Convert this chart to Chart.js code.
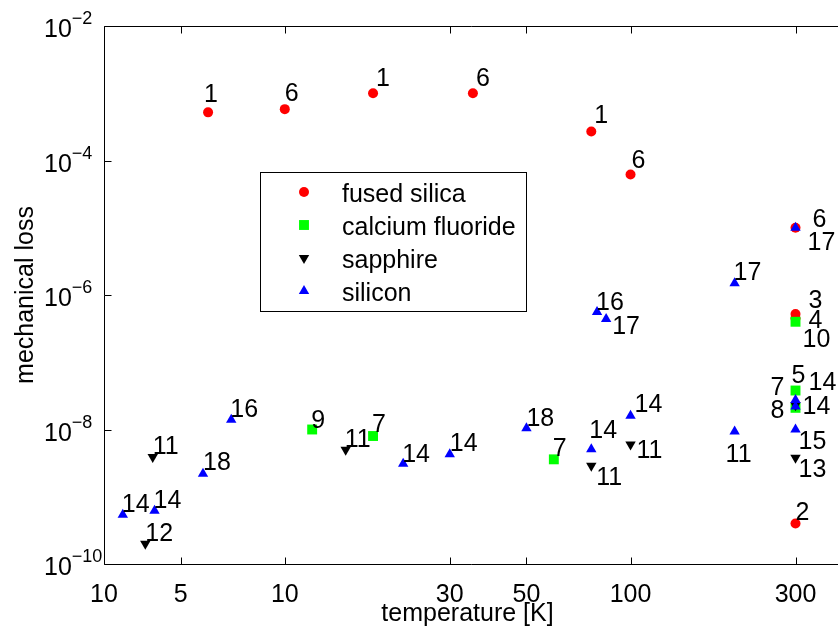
<!DOCTYPE html>
<html>
<head>
<meta charset="utf-8">
<script src="https://cdn.jsdelivr.net/npm/chart.js@4.4.0/dist/chart.umd.min.js"></script>
<style>
  html, body { margin: 0; padding: 0; background: #fff; overflow: hidden; }
  #wrap { width: 838px; height: 631px; }
</style>
</head>
<body>
<div id="wrap"><canvas id="chart" width="838" height="631"></canvas></div>
<script>
// axis ticks (the first tick sits at 3 K but is printed "10" in the original)
var xTickValues = [3, 5, 10, 30, 50, 100, 300];
var xTickLabels = ['10', '5', '10', '30', '50', '100', '300'];
var yTickValues = [1e-10, 1e-8, 1e-6, 1e-4, 1e-2];

var seriesNames = ['fused silica', 'calcium fluoride', 'sapphire', 'silicon'];

// fused silica
var fusedT    = [6, 10, 18, 35, 77, 100, 300, 300, 300, 300];
var fusedLoss = [5.2e-4, 5.8e-4, 1.0e-3, 1.0e-3, 2.7e-4, 6.2e-5, 1.0e-5, 5.2e-7, 4.5e-7, 4.0e-10];
var fusedRef  = ['1', '6', '1', '6', '1', '6', '6', '3', '4', '2'];

// calcium fluoride
var cafT    = [12, 18, 60, 300, 300, 300];
var cafLoss = [1.0e-8, 8.0e-9, 3.6e-9, 3.8e-8, 2.1e-8, 4.0e-7];
var cafRef  = ['9', '7', '7', '5', '7', '10'];

// sapphire
var sapT    = [4.15, 3.95, 15, 77, 100, 300, 300];
var sapLoss = [3.9e-9, 2.0e-10, 5.0e-9, 2.9e-9, 6.0e-9, 2.3e-8, 3.8e-9];
var sapRef  = ['11', '12', '11', '11', '11', '8', '13'];

// silicon
var siT    = [3.4, 4.2, 5.8, 7, 22, 30, 50, 77, 100, 200, 200, 80, 85, 300, 300, 300, 300];
var siLoss = [5.4e-10, 6.2e-10, 2.2e-9, 1.4e-8, 3.1e-9, 4.3e-9, 1.04e-8, 5.1e-9, 1.6e-8, 9.3e-9,
              1.5e-6, 5.6e-7, 4.4e-7, 1.0e-5, 2.75e-8, 2.2e-8, 1.0e-8];
var siRef  = ['14', '14', '18', '16', '14', '14', '18', '14', '14', '11',
              '17', '16', '17', '17', '14', '14', '15'];

// where each reference number sits relative to its marker (pixels, text left / baseline)
var labelOffsets = [
  [[-4,-10],[0,-8],[3,-7],[3,-7],[3,-8],[1,-6],[17,-1],[13,-6],[13,10],[0,-4]],
  [[-1,-2],[-1,-4],[-1,-3],[-4,-8],[-25,-13],[7,25]],
  [[0,-3],[0,-3],[-1,-3],[5,19],[6,14],[-25,13],[3,19]],
  [[-1,-3],[-1,-3],[0,-4],[-1,-3],[-1,-2],[0,-3],[0,-2],[-2,-11],[4,-4],[-9,30],
   [-1,-3],[-1,-2],[6,15],[12,22],[13,-10],[7,8],[3,19]]
];

var FONT = '"Liberation Sans", Arial, Helvetica, sans-serif';
var FS = 25;
var refs = [fusedRef, cafRef, sapRef, siRef];

function pts(t, v) {
  var out = [];
  for (var i = 0; i < t.length; i++) out.push({x: t[i], y: v[i]});
  return out;
}

var styles = [
  {color: '#ff0000', pointStyle: 'circle', radius: 5, rotation: 0},
  {color: '#00ff00', pointStyle: 'rect', radius: 7, rotation: 0},
  {color: '#000000', pointStyle: 'triangle', radius: 6, rotation: 180},
  {color: '#0000ff', pointStyle: 'triangle', radius: 6, rotation: 0}
];

function marker(ctx, st, x, y) {
  var r = st.radius;
  ctx.fillStyle = st.color;
  ctx.beginPath();
  if (st.pointStyle == 'circle') {
    ctx.arc(x, y, r, 0, Math.PI * 2);
  } else if (st.pointStyle == 'rect') {
    var s = r * Math.SQRT1_2;
    ctx.rect(x - s, y - s, 2 * s, 2 * s);
  } else {
    var d = st.rotation == 180 ? -1 : 1;
    ctx.moveTo(x, y - d * r);
    ctx.lineTo(x + r * 0.866, y + d * r / 2);
    ctx.lineTo(x - r * 0.866, y + d * r / 2);
    ctx.closePath();
  }
  ctx.fill();
}

var matlabLook = {
  id: 'matlabLook',
  beforeDatasetsDraw: function (chart) {
    var ctx = chart.ctx, a = chart.chartArea;
    var xs = chart.scales.x, ys = chart.scales.y;
    var L = Math.round(a.left) + 0.5, T = Math.round(a.top) + 0.5, B = Math.round(a.bottom) + 0.5;
    ctx.save();
    ctx.strokeStyle = '#000';
    ctx.lineWidth = 1;
    // the right side of the box is cut off by the picture edge
    ctx.beginPath();
    ctx.moveTo(chart.width, T); ctx.lineTo(L, T); ctx.lineTo(L, B); ctx.lineTo(chart.width, B);
    xTickValues.forEach(function (v) {
      var px = Math.round(xs.getPixelForValue(v)) + 0.5;
      ctx.moveTo(px, B); ctx.lineTo(px, B - 7);
      ctx.moveTo(px, T); ctx.lineTo(px, T + 7);
    });
    yTickValues.forEach(function (v) {
      var py = Math.round(ys.getPixelForValue(v)) + 0.5;
      ctx.moveTo(L, py); ctx.lineTo(L + 7, py);
    });
    ctx.stroke();

    // y tick labels as 10 with a raised exponent
    ctx.fillStyle = '#000';
    ctx.textAlign = 'left';
    ctx.textBaseline = 'alphabetic';
    yTickValues.forEach(function (v) {
      var py = ys.getPixelForValue(v);
      var e = Math.round(Math.log10(v));
      ctx.font = FS + 'px ' + FONT;
      ctx.fillText('10', 44, py + 11);
      var w = ctx.measureText('10').width;
      ctx.font = '18px ' + FONT;
      ctx.fillText((e < 0 ? '\u2212' : '') + Math.abs(e), 44 + w, py - 2);
    });
    ctx.restore();
  },
  afterDatasetsDraw: function (chart) {
    var ctx = chart.ctx;
    ctx.save();
    ctx.font = FS + 'px ' + FONT;
    ctx.fillStyle = '#000';
    ctx.textAlign = 'left';
    ctx.textBaseline = 'alphabetic';
    for (var i = 0; i < refs.length; i++) {
      var meta = chart.getDatasetMeta(i);
      for (var j = 0; j < meta.data.length; j++) {
        var p = meta.data[j];
        var off = labelOffsets[i][j];
        ctx.fillText(refs[i][j], p.x + off[0], p.y + off[1]);
      }
    }
    ctx.restore();
  },
  afterDraw: function (chart) {
    var ctx = chart.ctx;
    ctx.save();
    ctx.fillStyle = '#fff';
    ctx.fillRect(260, 172, 266, 139);
    ctx.strokeStyle = '#000';
    ctx.lineWidth = 1;
    ctx.strokeRect(260.5, 172.5, 266, 139);
    ctx.font = FS + 'px ' + FONT;
    ctx.textAlign = 'left';
    ctx.textBaseline = 'alphabetic';
    for (var i = 0; i < seriesNames.length; i++) {
      var cy = 192 + i * 33;
      marker(ctx, styles[i], 304, cy);
      ctx.fillStyle = '#000';
      ctx.fillText(seriesNames[i], 342, cy + 10);
    }
    ctx.restore();
  }
};

var datasets = [
  pts(fusedT, fusedLoss), pts(cafT, cafLoss), pts(sapT, sapLoss), pts(siT, siLoss)
].map(function (d, i) {
  return {
    label: seriesNames[i],
    data: d,
    order: 4 - i,
    pointStyle: styles[i].pointStyle,
    pointRadius: styles[i].radius,
    pointRotation: styles[i].rotation,
    pointBackgroundColor: styles[i].color,
    pointBorderColor: styles[i].color,
    pointBorderWidth: 0,
    showLine: false
  };
});

new Chart(document.getElementById('chart'), {
  type: 'scatter',
  data: { datasets: datasets },
  plugins: [matlabLook],
  options: {
    responsive: false,
    animation: false,
    events: [],
    layout: { padding: { top: 26, right: 0, left: 0, bottom: 0 } },
    plugins: { legend: { display: false }, tooltip: { enabled: false } },
    scales: {
      x: {
        type: 'logarithmic',
        min: 3,
        max: 380,
        grid: { display: false },
        border: { display: false },
        afterBuildTicks: function (scale) {
          scale.ticks = xTickValues.map(function (v) { return { value: v }; });
        },
        afterFit: function (scale) {
          scale.height = 67;
          scale.paddingLeft = 0;
          scale.paddingRight = 0;
        },
        ticks: {
          autoSkip: false,
          maxRotation: 0,
          padding: 8,
          color: '#000',
          font: { family: FONT, size: FS },
          callback: function (value, index) { return xTickLabels[index]; }
        },
        title: {
          display: true,
          text: 'temperature [K]',
          color: '#000',
          font: { family: FONT, size: FS },
          padding: { top: 0, bottom: 2 }
        }
      },
      y: {
        type: 'logarithmic',
        min: 1e-10,
        max: 1e-2,
        grid: { display: false },
        border: { display: false },
        afterBuildTicks: function (scale) {
          scale.ticks = yTickValues.map(function (v) { return { value: v }; });
        },
        afterFit: function (scale) { scale.width = 104; },
        ticks: { display: false },
        title: {
          display: true,
          text: 'mechanical loss',
          color: '#000',
          font: { family: FONT, size: FS },
          padding: { top: 11, bottom: 0 }
        }
      }
    }
  }
});
</script>
</body>
</html>
